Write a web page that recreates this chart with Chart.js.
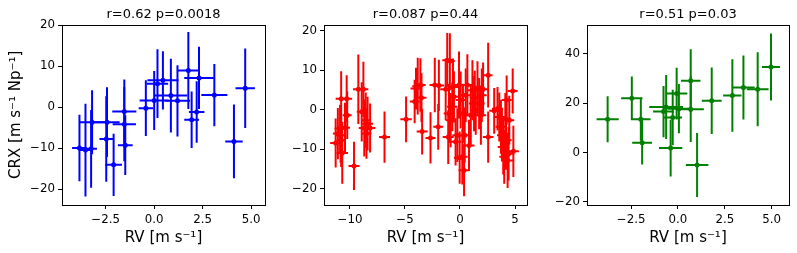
<!DOCTYPE html>
<html>
<head>
<meta charset="utf-8">
<script src="https://cdn.jsdelivr.net/npm/chart.js@4.4.1/dist/chart.umd.min.js"></script>
<style>
  body { margin: 0; background: #fff; }
  canvas { position: absolute; top: 0; }
</style>
</head>
<body>
<canvas id="c1" width="270" height="253" style="left:0px"></canvas>
<canvas id="c2" width="262" height="253" style="left:268px"></canvas>
<canvas id="c3" width="267" height="253" style="left:530px"></canvas>
<script>
// panel 1 (blue)
let x1 = [-3.85, -3.54, -3.25, -3.2, -2.43, -2.47, -2.09, -1.54, -1.54, -1.49, -0.43, 0.0, 1.2, 0.17, 0.45, 0.86, 1.76, 1.93, 2.19, 2.31, 3.1, 4.11, 4.69];
let y1 = [-10.0, -10.5, -10.2, -3.7, -3.7, -7.8, -14.1, -1.1, -4.2, -9.3, -0.3, 1.6, 1.5, 5.7, 6.5, 2.8, 8.9, -3.1, -1.2, 7.1, 2.9, -8.4, 4.6];
let xErr1 = [0.38, 0.35, 0.3, 0.65, 0.65, 0.35, 0.43, 0.62, 0.6, 0.38, 0.37, 0.75, 0.65, 0.55, 0.8, 0.85, 0.57, 0.38, 0.4, 0.76, 0.67, 0.45, 0.5];
let yErr1 = [8.1, 11.3, 9.5, 7.8, 8.5, 10.4, 7.6, 7.8, 9.0, 7.3, 6.8, 7.2, 8.7, 8.4, 7.1, 9.0, 9.4, 6.9, 7.5, 7.6, 7.6, 9.0, 9.7];

// panel 2 (red)
let x2 = [-11.3, -11.1, -10.9, -10.85, -10.8, -10.8, -10.7, -10.45, -10.3, -10.25, -9.63, -9.24, -8.93, -8.78, -8.7, -8.57, -8.5, -8.4, -8.17, -6.86,
  -4.9, -4.12, -4.0, -3.84, -3.6, -3.5, -3.44, -2.68, -2.29, -1.98, -1.92,
  -1.16, -0.92, -1.3, -1.0, -0.85, -1.07, -0.64, -0.55, -0.4, -0.7, -0.24, -0.09, -0.03, 0.21, 0.06, 0.27, 0.37, 0.43, 0.52, 0.67,
  0.82, 0.98, 1.13, 1.28, 1.34, 1.43, 1.59, 1.74, 1.9, 1.98, 2.1, 2.56, 2.56, 3.11, 3.41, 3.57, 3.72, 3.81, 3.93, 4.02,
  4.12, 4.18, 4.24, 4.33, 4.42, 4.79, 4.85, 4.48];
let y2 = [-8.4, -6.0, -4.7, -6.4, -7.7, 2.8, -10.9, -4.5, 2.8, -1.35, -14.2, 5.2, -0.5, 5.2, -4.6, -2.6, -6.0, -3.5, -4.6, -6.9,
  -2.4, 2.1, 5.4, 6.0, 6.3, 3.1, -5.5, -7.1, 6.3, -4.3, 6.2,
  12.6, 12.4, 5.2, -0.9, -2.6, -6.9, 5.8, 3.3, -8.1, 0.8, -6.4, 6.3, -12.1, -11.9, 2.5, -0.9, -15.3, -6.4, 3.7, 6.3,
  -9.0, -1.35, 5.0, 1.6, 3.1, -0.1, 5.4, 1.6, -1.35, 3.7, 5.2, 8.8, -6.9, -0.25, 0.3, -1.8, -4.3, -6.4, -9.4, -11.9,
  -2.2, -7.7, 2.5, -12.8, -11.1, 4.8, -10.5, -2.6];
let xErr2 = [0.5, 0.45, 0.5, 0.48, 0.42, 0.5, 0.52, 0.45, 0.5, 0.4, 0.5, 0.48, 0.45, 0.45, 0.5, 0.42, 0.45, 0.5, 0.48, 0.5,
  0.52, 0.45, 0.5, 0.5, 0.48, 0.45, 0.5, 0.46, 0.48, 0.45, 0.5,
  0.45, 0.45, 0.5, 0.48, 0.45, 0.5, 0.47, 0.45, 0.5, 0.48, 0.45, 0.5, 0.52, 0.48, 0.45, 0.5, 0.5, 0.45, 0.5, 0.48,
  0.5, 0.45, 0.5, 0.48, 0.45, 0.5, 0.45, 0.5, 0.48, 0.45, 0.5, 0.4, 0.48, 0.45, 0.5, 0.45, 0.48, 0.45, 0.5, 0.45,
  0.48, 0.5, 0.45, 0.5, 0.48, 0.45, 0.5, 0.45];
let yErr2 = [6.2, 6.5, 6.0, 7.0, 6.8, 7.0, 7.8, 6.3, 6.0, 6.0, 6.1, 8.8, 7.5, 7.0, 7.2, 7.0, 6.4, 6.8, 6.2, 6.5,
  5.8, 5.5, 5.3, 7.2, 6.8, 6.2, 5.8, 6.5, 6.9, 5.8, 6.5,
  6.9, 7.0, 7.8, 7.5, 6.9, 6.8, 7.2, 6.5, 6.0, 6.2, 6.8, 8.5, 6.6, 7.0, 7.2, 7.5, 6.6, 7.0, 6.8, 7.8,
  6.5, 7.5, 7.6, 7.0, 6.8, 6.2, 6.9, 6.5, 7.5, 6.8, 6.8, 8.2, 6.5, 5.8, 5.5, 6.2, 6.8, 6.7, 7.0, 6.8,
  6.5, 7.5, 6.2, 7.0, 6.8, 5.7, 6.5, 6.2];

// panel 3 (green)
let x3 = [-3.75, -2.46, -1.98, -1.91, -0.77, -0.63, -0.28, -0.39, -0.07, 0.05, 0.68, 0.68, 1.02, 1.8, 2.9, 3.49, 4.25, 4.96];
let y3 = [13.5, 22.0, 13.5, 4.0, 16.6, 18.5, 14.2, 1.8, 23.9, 17.8, 29.1, 17.6, -5.1, 21.0, 23.1, 26.4, 25.7, 34.7];
let xErr3 = [0.59, 0.57, 0.52, 0.53, 0.56, 0.9, 0.5, 0.62, 0.57, 0.6, 0.52, 0.7, 0.6, 0.53, 0.49, 0.6, 0.58, 0.48];
let yErr3 = [9.3, 8.8, 8.7, 8.9, 10.4, 13.0, 11.3, 11.5, 10.5, 10.0, 12.8, 13.3, 13.0, 13.5, 14.7, 13.0, 15.0, 13.6];

// ticks
let xTicks1 = [-2.5, 0, 2.5, 5];
let xLabels1 = ["\u22122.5", "0.0", "2.5", "5.0"];
let yTicks1 = [-20, -10, 0, 10, 20];
let yLabels1 = ["\u221220", "\u221210", "0", "10", "20"];
let xTicks2 = [-10, -5, 0, 5];
let xLabels2 = ["\u221210", "\u22125", "0", "5"];
let yTicks2 = [-20, -10, 0, 10, 20];
let yLabels2 = ["\u221220", "\u221210", "0", "10", "20"];
let xTicks3 = [-2.5, 0, 2.5, 5];
let xLabels3 = ["\u22122.5", "0.0", "2.5", "5.0"];
let yTicks3 = [-20, 0, 20, 40];
let yLabels3 = ["\u221220", "0", "20", "40"];

let titles = ["r=0.62 p=0.0018", "r=0.087 p=0.44", "r=0.51 p=0.03"];

const errorBars = {
  id: "errorBars",
  beforeDatasetsDraw(chart) {
    const { ctx, chartArea, scales: { x, y } } = chart;
    ctx.save();
    ctx.beginPath();
    ctx.rect(chartArea.left, chartArea.top, chartArea.width, chartArea.height);
    ctx.clip();
    chart.data.datasets.forEach(ds => {
      ctx.strokeStyle = ds.borderColor;
      ctx.lineWidth = 2;
      ds.data.forEach((p, i) => {
        let px = x.getPixelForValue(p.x);
        let py = y.getPixelForValue(p.y);
        ctx.beginPath();
        ctx.moveTo(x.getPixelForValue(p.x - ds.xErr[i]), py);
        ctx.lineTo(x.getPixelForValue(p.x + ds.xErr[i]), py);
        ctx.moveTo(px, y.getPixelForValue(p.y - ds.yErr[i]));
        ctx.lineTo(px, y.getPixelForValue(p.y + ds.yErr[i]));
        ctx.stroke();
      });
    });
    ctx.restore();
  },
  afterDraw(chart) {
    const { ctx, chartArea } = chart;
    ctx.save();
    ctx.strokeStyle = "#000";
    ctx.lineWidth = 1;
    ctx.strokeRect(Math.round(chartArea.left) + 0.5, Math.round(chartArea.top) + 0.5,
      Math.round(chartArea.width), Math.round(chartArea.height));
    ctx.restore();
  }
};

function makeChart(id, xs, ys, xe, ye, color, o) {
  let pts = xs.map((v, i) => ({ x: v, y: ys[i] }));
  let tickFont = { family: "DejaVu Sans", size: 11.8 };
  let labelFont = { family: "DejaVu Sans", size: 15 };
  new Chart(id, {
    type: "scatter",
    data: {
      datasets: [{
        data: pts,
        xErr: xe,
        yErr: ye,
        borderColor: color,
        backgroundColor: color,
        pointRadius: 2.5,
        pointBorderWidth: 0,
        pointHoverRadius: 2.5
      }]
    },
    plugins: [errorBars],
    options: {
      responsive: false,
      animation: false,
      devicePixelRatio: 1,
      layout: { padding: { left: 0, right: o.padRight, top: 0, bottom: 0 } },
      plugins: {
        legend: { display: false },
        tooltip: { enabled: false },
        title: {
          display: true,
          text: o.title,
          fullSize: false,
          color: "#000",
          font: { family: "DejaVu Sans", size: 13, weight: "normal" },
          padding: { top: 7, bottom: 2 }
        }
      },
      scales: {
        x: {
          type: "linear",
          min: o.xMin, max: o.xMax,
          afterFit(s) { s.height = 48; },
          afterBuildTicks(s) { s.ticks = o.xTicks.map(v => ({ value: v })); },
          grid: { drawOnChartArea: false, drawTicks: true, tickLength: 4, color: "#000", lineWidth: 1 },
          border: { display: false },
          ticks: {
            color: "#000", font: tickFont, padding: 4, maxRotation: 0,
            callback: (v) => o.xLabels[o.xTicks.indexOf(v)]
          },
          title: { display: true, text: "RV [m s\u207B\u00B9]", color: "#000", font: labelFont, padding: { top: 0, bottom: 6 } }
        },
        y: {
          type: "linear",
          min: o.yMin, max: o.yMax,
          afterFit(s) { s.width = o.yWidth; },
          afterBuildTicks(s) { s.ticks = o.yTicks.map(v => ({ value: v })); },
          grid: { drawOnChartArea: false, drawTicks: true, tickLength: 4, color: "#000", lineWidth: 1 },
          border: { display: false },
          ticks: {
            color: "#000", font: tickFont, padding: 3,
            callback: (v) => o.yLabels[o.yTicks.indexOf(v)]
          },
          title: {
            display: !!o.yTitle, text: o.yTitle || "", color: "#000", font: labelFont,
            padding: { top: 7, bottom: 0 }
          }
        }
      }
    }
  });
}

makeChart("c1", x1, y1, xErr1, yErr1, "#0000ff", {
  title: titles[0], padRight: 5, yWidth: 62,
  xMin: -4.75, xMax: 5.71, yMin: -23.9, yMax: 20.1,
  xTicks: xTicks1, xLabels: xLabels1, yTicks: yTicks1, yLabels: yLabels1,
  yTitle: "CRX [m s\u207B\u00B9 Np\u207B\u00B9]"
});
makeChart("c2", x2, y2, xErr2, yErr2, "#ff0000", {
  title: titles[1], padRight: 3, yWidth: 56,
  xMin: -12.36, xMax: 6.09, yMin: -24.1, yMax: 21.6,
  xTicks: xTicks2, xLabels: xLabels2, yTicks: yTicks2, yLabels: yLabels2
});
makeChart("c3", x3, y3, xErr3, yErr3, "#008000", {
  title: titles[2], padRight: 8, yWidth: 57,
  xMin: -4.85, xMax: 5.92, yMin: -21.3, yMax: 51.9,
  xTicks: xTicks3, xLabels: xLabels3, yTicks: yTicks3, yLabels: yLabels3
});
</script>
</body>
</html>
